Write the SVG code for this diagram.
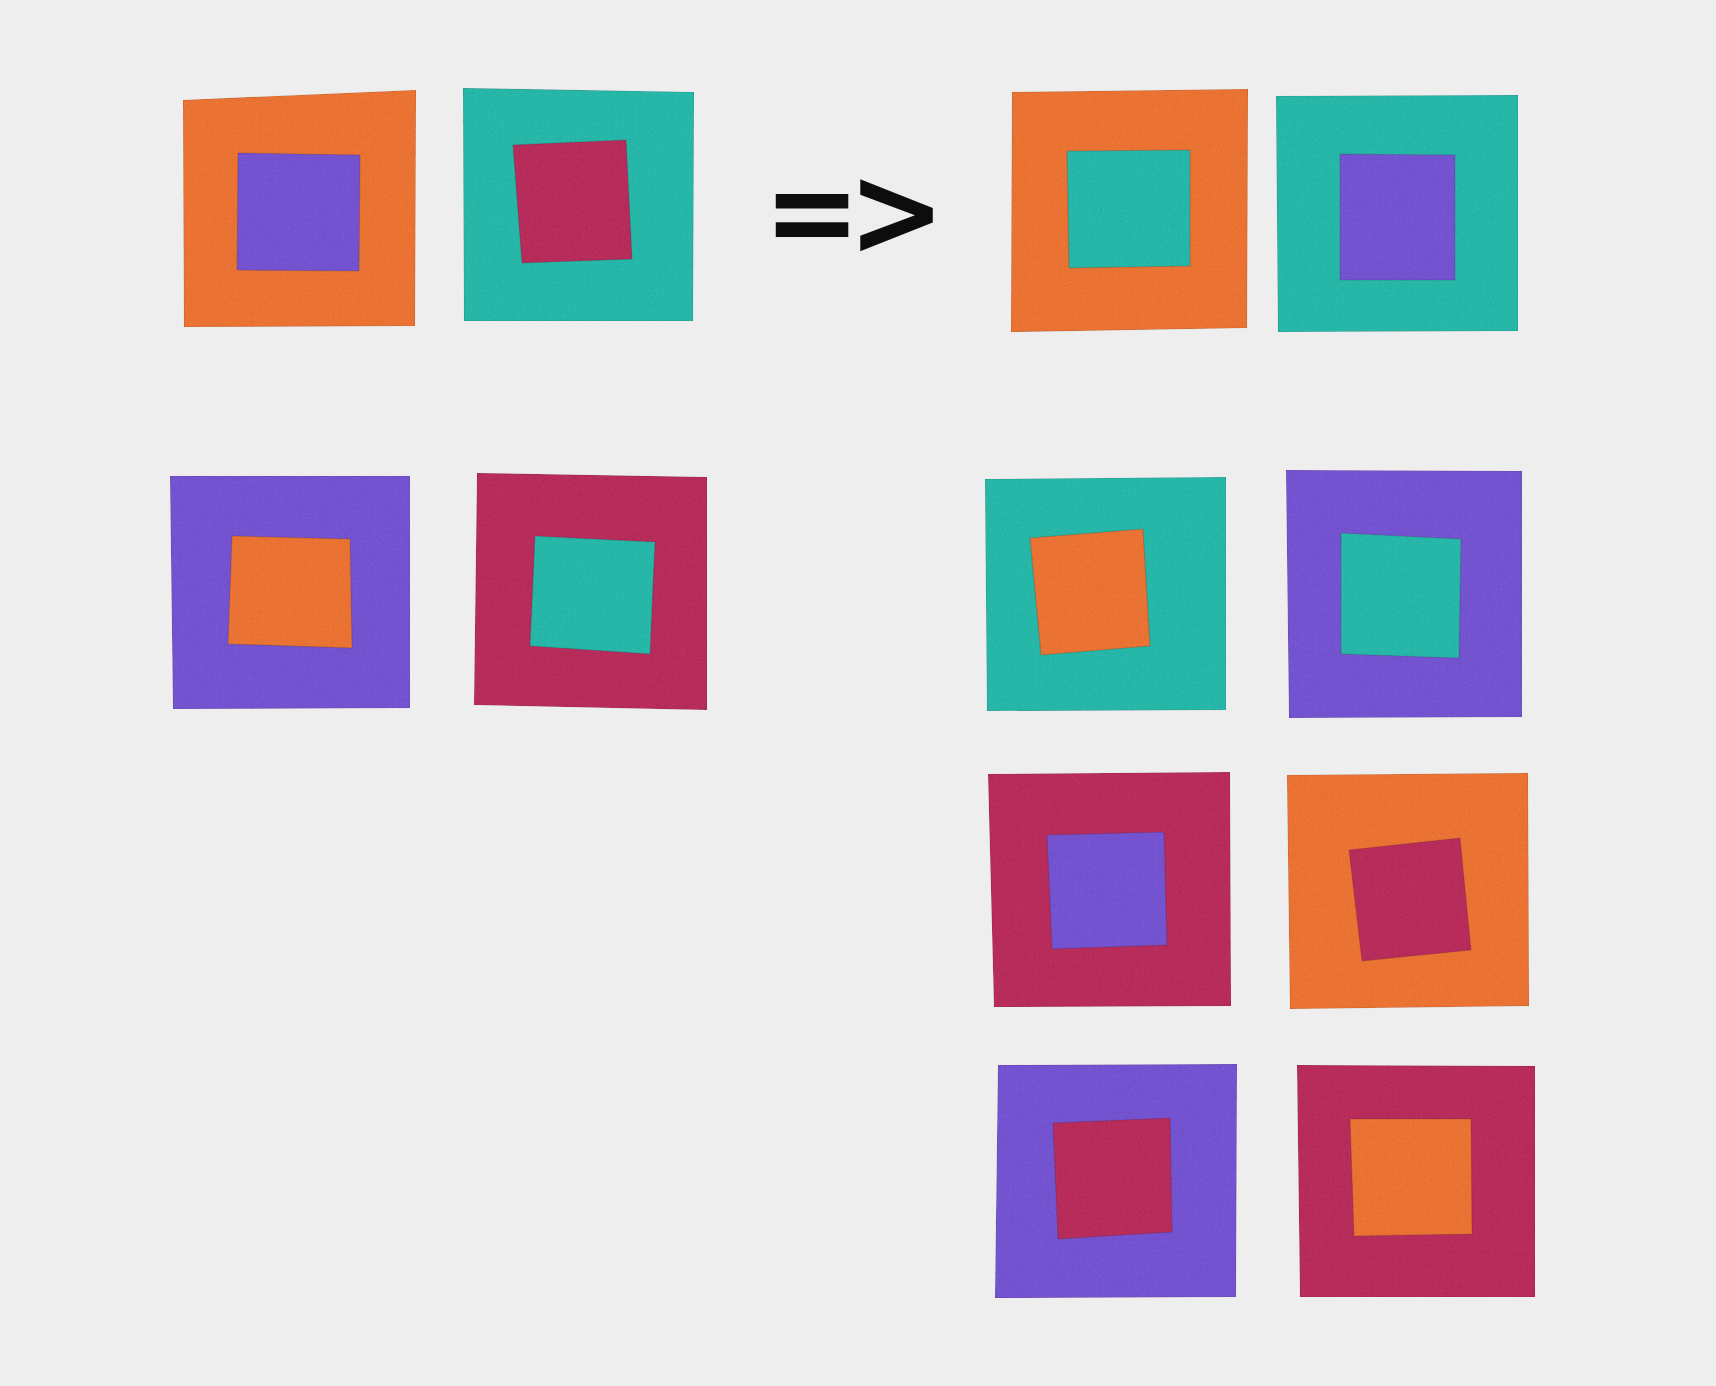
<svg xmlns="http://www.w3.org/2000/svg" width="1716" height="1386" viewBox="0 0 1716 1386">
<defs>
<filter id="grain" x="0" y="0" width="100%" height="100%" color-interpolation-filters="sRGB">
<feTurbulence type="fractalNoise" baseFrequency="0.85" numOctaves="2" seed="3" result="n"/>
<feColorMatrix in="n" type="saturate" values="0" result="g"/>
<feComposite in="SourceGraphic" in2="g" operator="arithmetic" k1="0" k2="1" k3="0.16" k4="-0.08" result="m"/>
<feComposite in="m" in2="SourceGraphic" operator="in"/>
</filter>
</defs>
<style>
.bg{fill:#efeeef}
.paper{stroke:rgba(60,40,40,0.18);stroke-width:1.2;stroke-linejoin:round}
.o{fill:#f27b3b}
.t{fill:#2ebfb0}
.p{fill:#7c5bd8}
.c{fill:#bf3463}
.arrow{font-family:"DejaVu Sans",sans-serif;font-weight:bold;font-size:126px;letter-spacing:-13.6px;fill:#0d0d0d}
g.sq{filter:url(#grain)}
</style>
<rect class="bg" x="0" y="0" width="1716" height="1386"/>

<g id="left-orange-purple" class="sq">
<polygon class="paper o" points="183,100 416,90 415,326 184,327"/>
<polygon class="paper p" points="238,153 360,155 359,271 237,270"/>
</g>
<g id="left-teal-crimson" class="sq">
<polygon class="paper t" points="463,88 694,92 693,321 464,321"/>
<polygon class="paper c" points="513,145 626,140 632,259 522,263"/>
</g>
<g id="left-purple-orange" class="sq">
<polygon class="paper p" points="170,476 410,476 410,708 173,709"/>
<polygon class="paper o" points="232,536 350,539 352,648 228,644"/>
</g>
<g id="left-crimson-teal" class="sq">
<polygon class="paper c" points="477,473 707,477 707,710 474,705"/>
<polygon class="paper t" points="535,536 655,542 650,654 530,646"/>
</g>

<text class="arrow" transform="translate(763.4,255) scale(0.92,1)" x="0" y="0">=&gt;</text>

<g id="right-orange-teal" class="sq">
<polygon class="paper o" points="1012,92 1248,89 1247,328 1011,332"/>
<polygon class="paper t" points="1067,151 1190,150 1190,266 1069,268"/>
</g>
<g id="right-teal-purple" class="sq">
<polygon class="paper t" points="1276,96 1518,95 1518,331 1278,332"/>
<polygon class="paper p" points="1340,154 1455,155 1455,280 1340,280"/>
</g>
<g id="right-teal-orange" class="sq">
<polygon class="paper t" points="985,479 1226,477 1226,710 987,711"/>
<polygon class="paper o" points="1030,538 1143,529 1150,646 1041,655"/>
</g>
<g id="right-purple-teal" class="sq">
<polygon class="paper p" points="1286,470 1522,471 1522,717 1289,718"/>
<polygon class="paper t" points="1341,533 1461,539 1459,658 1341,654"/>
</g>
<g id="right-crimson-purple" class="sq">
<polygon class="paper c" points="988,774 1230,772 1231,1006 994,1007"/>
<polygon class="paper p" points="1047,835 1164,832 1167,945 1052,949"/>
</g>
<g id="right-orange-crimson" class="sq">
<polygon class="paper o" points="1287,775 1528,773 1529,1006 1290,1009"/>
<polygon class="paper c" points="1349,850 1460,838 1471,950 1362,961"/>
</g>
<g id="right-purple-crimson" class="sq">
<polygon class="paper p" points="998,1065 1237,1064 1236,1297 995,1298"/>
<polygon class="paper c" points="1053,1123 1170,1118 1172,1232 1058,1239"/>
</g>
<g id="right-crimson-orange" class="sq">
<polygon class="paper c" points="1297,1065 1535,1066 1535,1297 1300,1297"/>
<polygon class="paper o" points="1350,1119 1471,1119 1472,1234 1354,1236"/>
</g>
</svg>
